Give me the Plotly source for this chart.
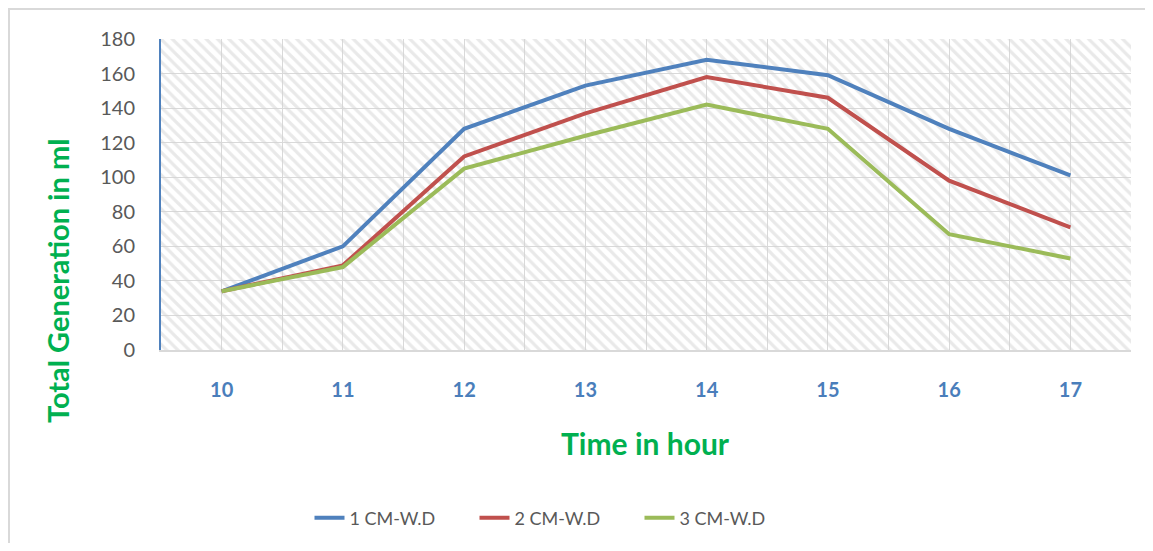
import plotly.graph_objects as go

hours = [10, 11, 12, 13, 14, 15, 16, 17]
series_names = ["1 CM-W.D", "2 CM-W.D", "3 CM-W.D"]
cm1 = [34, 60, 128, 153, 168, 159, 128, 101]
cm2 = [34, 49, 112, 137, 158, 146, 98, 71]
cm3 = [34, 48, 105, 124, 142, 128, 67, 53]
colors = ["#4f81bd", "#c0504d", "#9bbb59"]
y_ticks = list(range(0, 181, 20))

x_lo, x_hi = hours[0] - 0.5, hours[-1] + 0.5
y_lo, y_hi = y_ticks[0], y_ticks[-1]

FONT = "Lato"
OFF = 8  # page body margin
W, H = 1153 - 2 * OFF, 551 - 2 * OFF
PL, PT, PW, PH = 161 - OFF, 39 - OFF, 970, 311

fig = go.Figure()

# hatched plot background
fig.add_trace(go.Scatter(
    x=[x_lo, x_hi, x_hi, x_lo, x_lo], y=[y_lo, y_lo, y_hi, y_hi, y_lo],
    fill="toself", mode="none", fillcolor="rgba(0,0,0,0)",
    fillpattern=dict(shape="\\", fgcolor="#d4d4d4", bgcolor="rgba(0,0,0,0)", size=8, solidity=0.4),
    showlegend=False, hoverinfo="skip"))

for name, vals, c in zip(series_names, [cm1, cm2, cm3], colors):
    fig.add_trace(go.Scatter(x=hours, y=vals, mode="lines", name=name,
                             line=dict(color=c, width=4)))

fig.update_layout(
    width=W, height=H,
    margin=dict(l=PL, r=W - PL - PW, t=PT, b=H - PT - PH),
    paper_bgcolor="white", plot_bgcolor="white",
    font=dict(family=FONT, color="#595959"),
    legend=dict(orientation="h", xref="container", yref="container",
                x=(557 - OFF) / W, y=1 - (518 - OFF) / H, xanchor="center", yanchor="middle",
                font=dict(size=18, color="#595959"), entrywidth=120, traceorder="normal"),
    xaxis=dict(range=[x_lo, x_hi], tickvals=hours, ticktext=[str(h) for h in hours],
               showgrid=True, gridcolor="#d9d9d9", gridwidth=1,
               minor=dict(dtick=0.5, tick0=x_lo, showgrid=True, gridcolor="#d9d9d9", gridwidth=1),
               showline=True, linecolor="#d9d9d9", linewidth=2,
               ticks="outside", ticklen=21, tickcolor="rgba(0,0,0,0)",
               tickfont=dict(size=20, color="#4a7ebb", family=FONT, weight="bold"),
               zeroline=False, fixedrange=True),
    yaxis=dict(range=[y_lo, y_hi], tickvals=y_ticks,
               showgrid=True, gridcolor="#d9d9d9", gridwidth=1,
               showline=True, linecolor="#4f81bd", linewidth=2,
               ticks="outside", ticklen=20, tickcolor="rgba(0,0,0,0)",
               tickfont=dict(size=20, color="#595959", family=FONT),
               zeroline=False, fixedrange=True),
    annotations=[
        dict(text="<b>Total Generation in ml</b>", xref="paper", yref="paper",
             x=(57 - 161) / PW, y=(350 - 281) / PH, textangle=-90, showarrow=False,
             xanchor="center", yanchor="middle",
             font=dict(size=29, color="#00b050", family=FONT)),
        dict(text="<b>Time in hour</b>", xref="paper", yref="paper",
             x=(645 - 161) / PW, y=(350 - 443) / PH, showarrow=False,
             xanchor="center", yanchor="middle",
             font=dict(size=30, color="#00b050", family=FONT)),
    ],
    shapes=[dict(type="rect", xref="paper", yref="paper",
                 x0=(9 - 161) / PW, x1=(1175 - 161) / PW,
                 y0=(350 - 575) / PH, y1=1 + (39 - 9) / PH,
                 line=dict(color="#d9d9d9", width=2), fillcolor="rgba(0,0,0,0)", layer="below")],
)

fig.write_html("out.html")
